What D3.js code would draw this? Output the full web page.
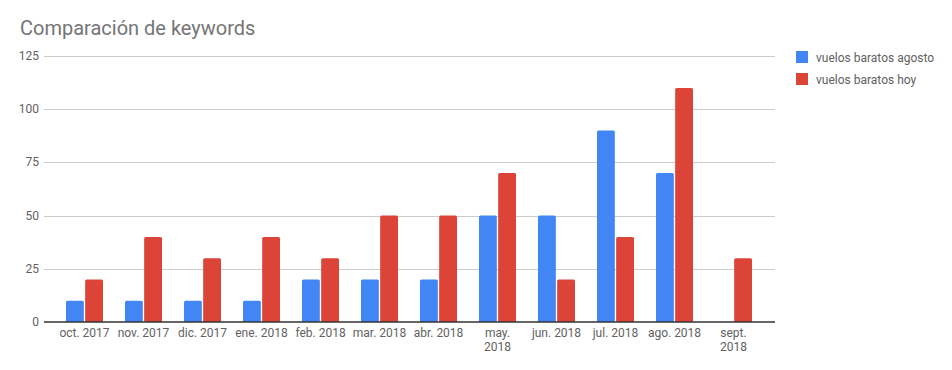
<!DOCTYPE html>
<html>
<head>
<meta charset="utf-8">
<script src="https://cdn.jsdelivr.net/npm/d3@7"></script>
<style>
  body { margin: 0; background: #fff; }
  text { font-family: Roboto, "Noto Sans", sans-serif; }
</style>
</head>
<body>
<svg id="chart" width="952" height="370"></svg>
<script>
// data
const months = ["oct. 2017", "nov. 2017", "dic. 2017", "ene. 2018", "feb. 2018", "mar. 2018",
  "abr. 2018", "may. 2018", "jun. 2018", "jul. 2018", "ago. 2018", "sept. 2018"]
const agosto = [10, 10, 10, 10, 20, 20, 20, 50, 50, 90, 70, null]
const hoy = [20, 40, 30, 40, 30, 50, 50, 70, 20, 40, 110, 30]
const seriesNames = ["vuelos baratos agosto", "vuelos baratos hoy"]
const yTicks = [0, 25, 50, 75, 100, 125]
// labels that wrap onto two lines
const wrapped = {"may. 2018": ["may.", "2018"], "sept. 2018": ["sept.", "2018"]}

const colors = ["#4285f4", "#db4437"]
const svg = d3.select("#chart")

const y = d3.scaleLinear().domain([0, 125]).range([322, 56])
const x = d3.scaleBand().domain(months).range([55, 763])
const sub = d3.scaleBand().domain([0, 1]).range([-18.5, 18.5]).paddingInner(0.07)

svg.append("text")
    .attr("x", 20).attr("y", 35)
    .attr("font-size", 20)
    .attr("fill", "#757575")
    .text("Comparación de keywords")

// gridlines + y labels
svg.append("g").selectAll("line")
    .data(yTicks.filter(d => d > 0))
    .enter().append("line")
    .attr("x1", 44).attr("x2", 775)
    .attr("y1", d => Math.round(y(d)) + 0.5)
    .attr("y2", d => Math.round(y(d)) + 0.5)
    .attr("stroke", "#cccccc")

svg.append("g").selectAll("text")
    .data(yTicks)
    .enter().append("text")
    .attr("x", 39).attr("y", d => y(d) + 4)
    .attr("text-anchor", "end")
    .attr("font-size", 12)
    .attr("fill", "#616161")
    .text(d => d)

// bars
const rows = months.map((m, i) => ({m, vals: [agosto[i], hoy[i]]}))
const groups = svg.append("g").selectAll("g")
    .data(rows)
    .enter().append("g")
    .attr("transform", d => `translate(${x(d.m) + x.bandwidth() / 2},0)`)

groups.selectAll("path")
    .data(d => d.vals.map((v, k) => ({v, k})).filter(e => e.v != null))
    .enter().append("path")
    .attr("fill", e => colors[e.k])
    .attr("d", e => {
        const x0 = sub(e.k), w = sub.bandwidth()
        const y0 = y(e.v), y1 = y(0), r = 1.5
        return `M${x0},${y1}V${y0 + r}Q${x0},${y0} ${x0 + r},${y0}H${x0 + w - r}Q${x0 + w},${y0} ${x0 + w},${y0 + r}V${y1}Z`
    })

// baseline
svg.append("line")
    .attr("x1", 44).attr("x2", 775)
    .attr("y1", 322).attr("y2", 322)
    .attr("stroke", "#333333")
    .attr("stroke-width", 1.3)

// x labels
const xl = svg.append("g").selectAll("text")
    .data(months)
    .enter().append("text")
    .attr("x", d => x(d) + x.bandwidth() / 2)
    .attr("y", 337)
    .attr("text-anchor", "middle")
    .attr("font-size", 12)
    .attr("fill", "#616161")
xl.each(function (d) {
    const lines = wrapped[d] || [d]
    d3.select(this).selectAll("tspan")
        .data(lines)
        .enter().append("tspan")
        .attr("x", x(d) + x.bandwidth() / 2)
        .attr("dy", (l, i) => i === 0 ? 0 : 14)
        .text(l => l)
})

// legend
const leg = svg.append("g").selectAll("g")
    .data(seriesNames)
    .enter().append("g")
    .attr("transform", (d, i) => `translate(796,${51 + i * 22})`)
leg.append("rect")
    .attr("width", 12).attr("height", 12)
    .attr("fill", (d, i) => colors[i])
leg.append("text")
    .attr("x", 20).attr("y", 10.5)
    .attr("font-size", 12)
    .attr("fill", "#616161")
    .text(d => d)
</script>
</body>
</html>
